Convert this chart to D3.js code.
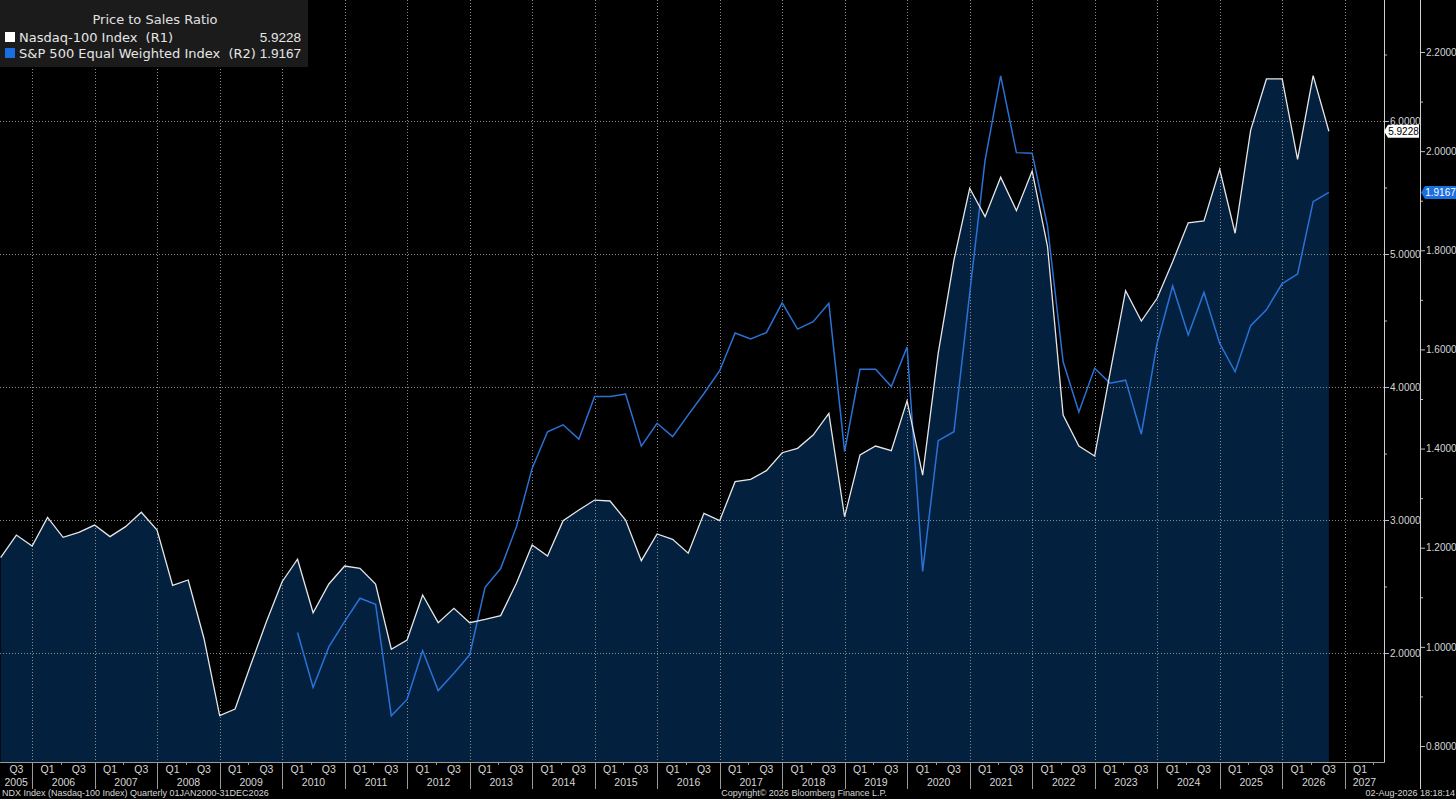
<!DOCTYPE html>
<html>
<head>
<meta charset="utf-8">
<script src="https://cdn.jsdelivr.net/npm/d3@7"></script>
<style>
    html, body { margin: 0; padding: 0; background: #000; }
    svg { display: block; }
</style>
</head>
<body>
<svg id="chart" width="1456" height="799"></svg>
<script>
(function () {
    "use strict";

    // quarterly observations, plotted at quarter end
    var quarters = [
        '2005Q2', '2005Q3', '2005Q4',
        '2006Q1', '2006Q2', '2006Q3', '2006Q4',
        '2007Q1', '2007Q2', '2007Q3', '2007Q4',
        '2008Q1', '2008Q2', '2008Q3', '2008Q4',
        '2009Q1', '2009Q2', '2009Q3', '2009Q4',
        '2010Q1', '2010Q2', '2010Q3', '2010Q4',
        '2011Q1', '2011Q2', '2011Q3', '2011Q4',
        '2012Q1', '2012Q2', '2012Q3', '2012Q4',
        '2013Q1', '2013Q2', '2013Q3', '2013Q4',
        '2014Q1', '2014Q2', '2014Q3', '2014Q4',
        '2015Q1', '2015Q2', '2015Q3', '2015Q4',
        '2016Q1', '2016Q2', '2016Q3', '2016Q4',
        '2017Q1', '2017Q2', '2017Q3', '2017Q4',
        '2018Q1', '2018Q2', '2018Q3', '2018Q4',
        '2019Q1', '2019Q2', '2019Q3', '2019Q4',
        '2020Q1', '2020Q2', '2020Q3', '2020Q4',
        '2021Q1', '2021Q2', '2021Q3', '2021Q4',
        '2022Q1', '2022Q2', '2022Q3', '2022Q4',
        '2023Q1', '2023Q2', '2023Q3', '2023Q4',
        '2024Q1', '2024Q2', '2024Q3', '2024Q4',
        '2025Q1', '2025Q2', '2025Q3', '2025Q4',
        '2026Q1', '2026Q2', '2026Q3'
    ];

    // Nasdaq-100 price to sales (R1)
    var ndxValues = [
        2.717, 2.887, 2.805,
        3.020, 2.870, 2.907, 2.962,
        2.875, 2.950, 3.058, 2.925,
        2.509, 2.549, 2.111, 1.529,
        1.579, 1.910, 2.235, 2.536,
        2.705, 2.303, 2.519, 2.654,
        2.637, 2.519, 2.028, 2.098,
        2.436, 2.228, 2.336, 2.228,
        2.253, 2.281, 2.524, 2.812,
        2.729, 2.995, 3.075, 3.150,
        3.143, 3.000, 2.694, 2.895,
        2.855, 2.750, 3.050, 2.995,
        3.288, 3.306, 3.371, 3.506,
        3.539, 3.639, 3.802, 3.025,
        3.489, 3.556, 3.521, 3.897,
        3.338, 4.254, 4.955, 5.494,
        5.281, 5.577, 5.326, 5.624,
        5.055, 3.789, 3.556, 3.481,
        4.105, 4.724, 4.496, 4.667,
        4.942, 5.235, 5.248, 5.637,
        5.156, 5.932, 6.316, 6.316,
        5.712, 6.341, 5.9228
    ];

    // S&P 500 Equal Weighted price to sales (R2)
    var spewValues = [
        null, null, null,
        null, null, null, null,
        null, null, null, null,
        null, null, null, null,
        null, null, null, null,
        1.029, 0.918, 1.000, 1.051,
        1.098, 1.086, 0.861, 0.894,
        0.992, 0.912, 0.947, 0.984,
        1.120, 1.158, 1.242, 1.360,
        1.434, 1.448, 1.419, 1.505,
        1.505, 1.510, 1.405, 1.451,
        1.424, 1.468, 1.511, 1.557,
        1.633, 1.621, 1.634, 1.694,
        1.641, 1.656, 1.693, 1.394,
        1.560, 1.560, 1.525, 1.605,
        1.152, 1.416, 1.434, 1.713,
        1.982, 2.152, 1.997, 1.996,
        1.848, 1.575, 1.474, 1.562,
        1.532, 1.538, 1.429, 1.612,
        1.728, 1.629, 1.715, 1.612,
        1.555, 1.648, 1.680, 1.733,
        1.752, 1.898, 1.9167
    ];

    var r1Ticks = [2, 3, 4, 5, 6];
    var r1Minor = [2.5, 3.5, 4.5, 5.5, 6.5];
    var r2Ticks = [0.8, 1.0, 1.2, 1.4, 1.6, 1.8, 2.0, 2.2];
    var r2Minor = [0.9, 1.1, 1.3, 1.5, 1.7, 1.9, 2.1];
    var years = [2005, 2006, 2007, 2008, 2009, 2010, 2011, 2012, 2013, 2014, 2015, 2016,
        2017, 2018, 2019, 2020, 2021, 2022, 2023, 2024, 2025, 2026, 2027];
    var quarterLabels = ['Q1', 'Q3'];

    var legendTitle = 'Price to Sales Ratio';
    var ndxName = 'Nasdaq-100 Index  (R1)';
    var spewName = 'S&P 500 Equal Weighted Index  (R2)';
    var footerLeft = 'NDX Index (Nasdaq-100 Index) Quarterly 01JAN2000-31DEC2026';
    var footerMid = 'Copyright\u00a9 2026 Bloomberg Finance L.P.';
    var footerRight = '02-Aug-2026 18:18:14';

    var config = {
        plotRight: 1384,
        plotBottom: 762,
        r2AxisX: 1420,
        font: '"Liberation Sans", Arial, sans-serif',
        legendFont: '"DejaVu Sans", Verdana, sans-serif',
        areaFill: '#03203f',
        ndxColor: '#e6e6e6',
        spewColor: '#2a72d6',
        gridColor: '#8a8a8a',
        textColor: '#d6d6d6'
    };

    function quarterEnd(label) {
        var yr = +label.slice(0, 4);
        var q = +label.slice(5);
        return new Date(yr, q * 3, 0);
    }

    function drawChart() {
        var svg = d3.select('#chart');
        svg.selectAll('*').remove();
        svg.style('font-family', config.font);

        var W = 1456, H = 799;
        svg.append('rect').attr('width', W).attr('height', H).attr('fill', '#000');

        var x = d3.scaleTime()
            .domain([new Date(2006, 0, 1), new Date(2027, 0, 1)])
            .range([32.3, 1344.8]);
        var y1 = d3.scaleLinear().domain([2, 6]).range([653, 121]);
        var y2 = d3.scaleLinear().domain([0.8, 2.2]).range([746, 52]);

        var rows = quarters.map(function (q, i) {
            return { date: quarterEnd(q), ndx: ndxValues[i], spew: spewValues[i] };
        });

        svg.append('clipPath').attr('id', 'plotClip')
            .append('rect')
            .attr('x', 0).attr('y', 0)
            .attr('width', config.plotRight).attr('height', config.plotBottom);

        var plot = svg.append('g').attr('clip-path', 'url(#plotClip)');

        // filled area under the Nasdaq line
        var area = d3.area()
            .x(function (d) { return x(d.date); })
            .y0(config.plotBottom)
            .y1(function (d) { return y1(d.ndx); });
        plot.append('path').datum(rows)
            .attr('d', area)
            .attr('fill', config.areaFill);

        // dotted grid
        var boundaries = years.slice(1).map(function (yr) { return new Date(yr, 0, 1); });
        plot.selectAll('line.vgrid').data(boundaries).enter().append('line')
            .attr('class', 'vgrid')
            .attr('x1', function (d) { return Math.round(x(d)) + 0.5; })
            .attr('x2', function (d) { return Math.round(x(d)) + 0.5; })
            .attr('y1', 0).attr('y2', config.plotBottom)
            .attr('stroke', config.gridColor)
            .attr('stroke-width', 1)
            .attr('stroke-dasharray', '1,2');
        plot.selectAll('line.hgrid').data(r1Ticks).enter().append('line')
            .attr('class', 'hgrid')
            .attr('x1', 0).attr('x2', config.plotRight)
            .attr('y1', function (d) { return Math.round(y1(d)) + 0.5; })
            .attr('y2', function (d) { return Math.round(y1(d)) + 0.5; })
            .attr('stroke', config.gridColor)
            .attr('stroke-width', 1)
            .attr('stroke-dasharray', '1,2');

        var ndxLine = d3.line()
            .x(function (d) { return x(d.date); })
            .y(function (d) { return y1(d.ndx); });
        var spewLine = d3.line()
            .defined(function (d) { return d.spew != null; })
            .x(function (d) { return x(d.date); })
            .y(function (d) { return y2(d.spew); });

        plot.append('path').datum(rows)
            .attr('d', spewLine)
            .attr('fill', 'none')
            .attr('stroke', config.spewColor)
            .attr('stroke-width', 1.5);
        plot.append('path').datum(rows)
            .attr('d', ndxLine)
            .attr('fill', 'none')
            .attr('stroke', config.ndxColor)
            .attr('stroke-width', 1.3);

        // right axes
        var r1 = svg.append('g').attr('transform', 'translate(' + config.plotRight + ',0)');
        r1.call(d3.axisRight(y1).tickValues(r1Ticks).tickSize(5).tickSizeOuter(0)
            .tickFormat(d3.format('.4f')));
        r1.append('g').call(d3.axisRight(y1).tickValues(r1Minor).tickSize(3).tickFormat(''));

        var r2 = svg.append('g').attr('transform', 'translate(' + config.r2AxisX + ',0)');
        r2.call(d3.axisRight(y2).tickValues(r2Ticks).tickSize(5).tickSizeOuter(0)
            .tickFormat(d3.format('.4f')));
        r2.append('g').call(d3.axisRight(y2).tickValues(r2Minor).tickSize(3).tickFormat(''));

        [r1, r2].forEach(function (g) {
            g.selectAll('.domain').remove();
            g.selectAll('line').attr('stroke', '#bbb');
            g.selectAll('text')
                .attr('x', 6)
                .attr('fill', config.textColor)
                .style('font-family', config.font)
                .style('font-size', '10px');
        });

        svg.append('line')
            .attr('x1', config.plotRight + 0.5).attr('x2', config.plotRight + 0.5)
            .attr('y1', 0).attr('y2', config.plotBottom + 0.5)
            .attr('stroke', '#cfcfcf');
        svg.append('line')
            .attr('x1', config.r2AxisX + 0.5).attr('x2', config.r2AxisX + 0.5)
            .attr('y1', 0).attr('y2', 789)
            .attr('stroke', '#cfcfcf');

        // bottom time axis
        var xa = svg.append('g');
        xa.append('line')
            .attr('x1', 0).attr('x2', config.plotRight + 0.5)
            .attr('y1', config.plotBottom + 0.5).attr('y2', config.plotBottom + 0.5)
            .attr('stroke', '#9a9a9a');
        xa.selectAll('line.sep').data(boundaries).enter().append('line')
            .attr('class', 'sep')
            .attr('x1', function (d) { return Math.round(x(d)) + 0.5; })
            .attr('x2', function (d) { return Math.round(x(d)) + 0.5; })
            .attr('y1', config.plotBottom).attr('y2', 789)
            .attr('stroke', '#9a9a9a');

        var qTicks = [];
        years.forEach(function (yr) {
            quarterLabels.forEach(function (q) {
                var m = q === 'Q1' ? 3 : 9;
                var px = x(new Date(yr, m, 0));
                if (px > 4 && px < config.plotRight - 4) {
                    qTicks.push({ label: q, x: px });
                }
            });
            var minor = x(new Date(yr, 5, 15));
            if (minor > 0 && minor < config.plotRight) {
                xa.append('line')
                    .attr('x1', Math.round(minor) + 0.5).attr('x2', Math.round(minor) + 0.5)
                    .attr('y1', config.plotBottom).attr('y2', config.plotBottom + 3)
                    .attr('stroke', '#9a9a9a');
            }
        });
        xa.selectAll('text.q').data(qTicks).enter().append('text')
            .attr('class', 'q')
            .attr('x', function (d) { return d.x; })
            .attr('y', 773)
            .attr('text-anchor', 'middle')
            .attr('fill', config.textColor)
            .style('font-size', '10.5px')
            .text(function (d) { return d.label; });

        xa.selectAll('text.yr').data(years).enter().append('text')
            .attr('class', 'yr')
            .attr('x', function (yr) {
                var a = Math.max(0, x(new Date(yr, 0, 1)));
                var b = Math.min(config.plotRight, x(new Date(yr + 1, 0, 1)));
                return (a + b) / 2;
            })
            .attr('y', 786)
            .attr('text-anchor', 'middle')
            .attr('fill', config.textColor)
            .style('font-size', '10.5px')
            .text(function (yr) { return yr; });

        // footer
        svg.append('text').attr('x', 2).attr('y', 796)
            .attr('fill', config.textColor).style('font-size', '9px').text(footerLeft);
        svg.append('text').attr('x', 804).attr('y', 796).attr('text-anchor', 'middle')
            .attr('fill', config.textColor).style('font-size', '9px').text(footerMid);
        svg.append('text').attr('x', 1455).attr('y', 796).attr('text-anchor', 'end')
            .attr('fill', config.textColor).style('font-size', '9px').text(footerRight);

        // last value badges
        var lastNdx = ndxValues[ndxValues.length - 1];
        var lastSpew = spewValues[spewValues.length - 1];
        function badge(x0, w, yv, fill, txtColor, label) {
            var h = 13;
            var g = svg.append('g');
            g.append('path')
                .attr('d', 'M' + x0 + ',' + yv + ' L' + (x0 + 4) + ',' + (yv - h / 2) +
                    ' L' + (x0 + w) + ',' + (yv - h / 2) + ' L' + (x0 + w) + ',' + (yv + h / 2) +
                    ' L' + (x0 + 4) + ',' + (yv + h / 2) + ' Z')
                .attr('fill', fill);
            g.append('text')
                .attr('x', x0 + 4 + (w - 4) / 2).attr('y', yv + 4)
                .attr('text-anchor', 'middle')
                .attr('fill', txtColor)
                .style('font-size', '10px')
                .text(label);
        }
        badge(config.plotRight, 35, y1(lastNdx), '#ffffff', '#000', d3.format('.4f')(lastNdx));
        badge(config.r2AxisX + 1, 35, y2(lastSpew), '#1a6fe0', '#fff', d3.format('.4f')(lastSpew));

        // legend
        var lg = svg.append('g').style('font-family', config.legendFont);
        lg.append('rect').attr('x', 0).attr('y', 0).attr('width', 308).attr('height', 67)
            .attr('fill', '#1b1b1b');
        lg.append('text').attr('x', 155).attr('y', 24).attr('text-anchor', 'middle')
            .attr('fill', '#e0e0e0').style('font-size', '13px').text(legendTitle);
        var items = [
            { name: ndxName, color: '#ffffff', value: d3.format('.4f')(lastNdx), y: 42 },
            { name: spewName, color: '#1a6fe0', value: d3.format('.4f')(lastSpew), y: 58 }
        ];
        items.forEach(function (it) {
            lg.append('rect').attr('x', 5).attr('y', it.y - 10).attr('width', 10).attr('height', 10)
                .attr('fill', it.color);
            lg.append('text').attr('x', 19).attr('y', it.y)
                .attr('fill', '#e6e6e6').style('font-size', '13px')
                .style('white-space', 'pre').text(it.name);
            lg.append('text').attr('x', 301).attr('y', it.y).attr('text-anchor', 'end')
                .attr('fill', '#e6e6e6')
                .style('font-family', config.font)
                .style('font-size', '13.5px').text(it.value);
        });
    }

    drawChart();
})();
</script>
</body>
</html>
